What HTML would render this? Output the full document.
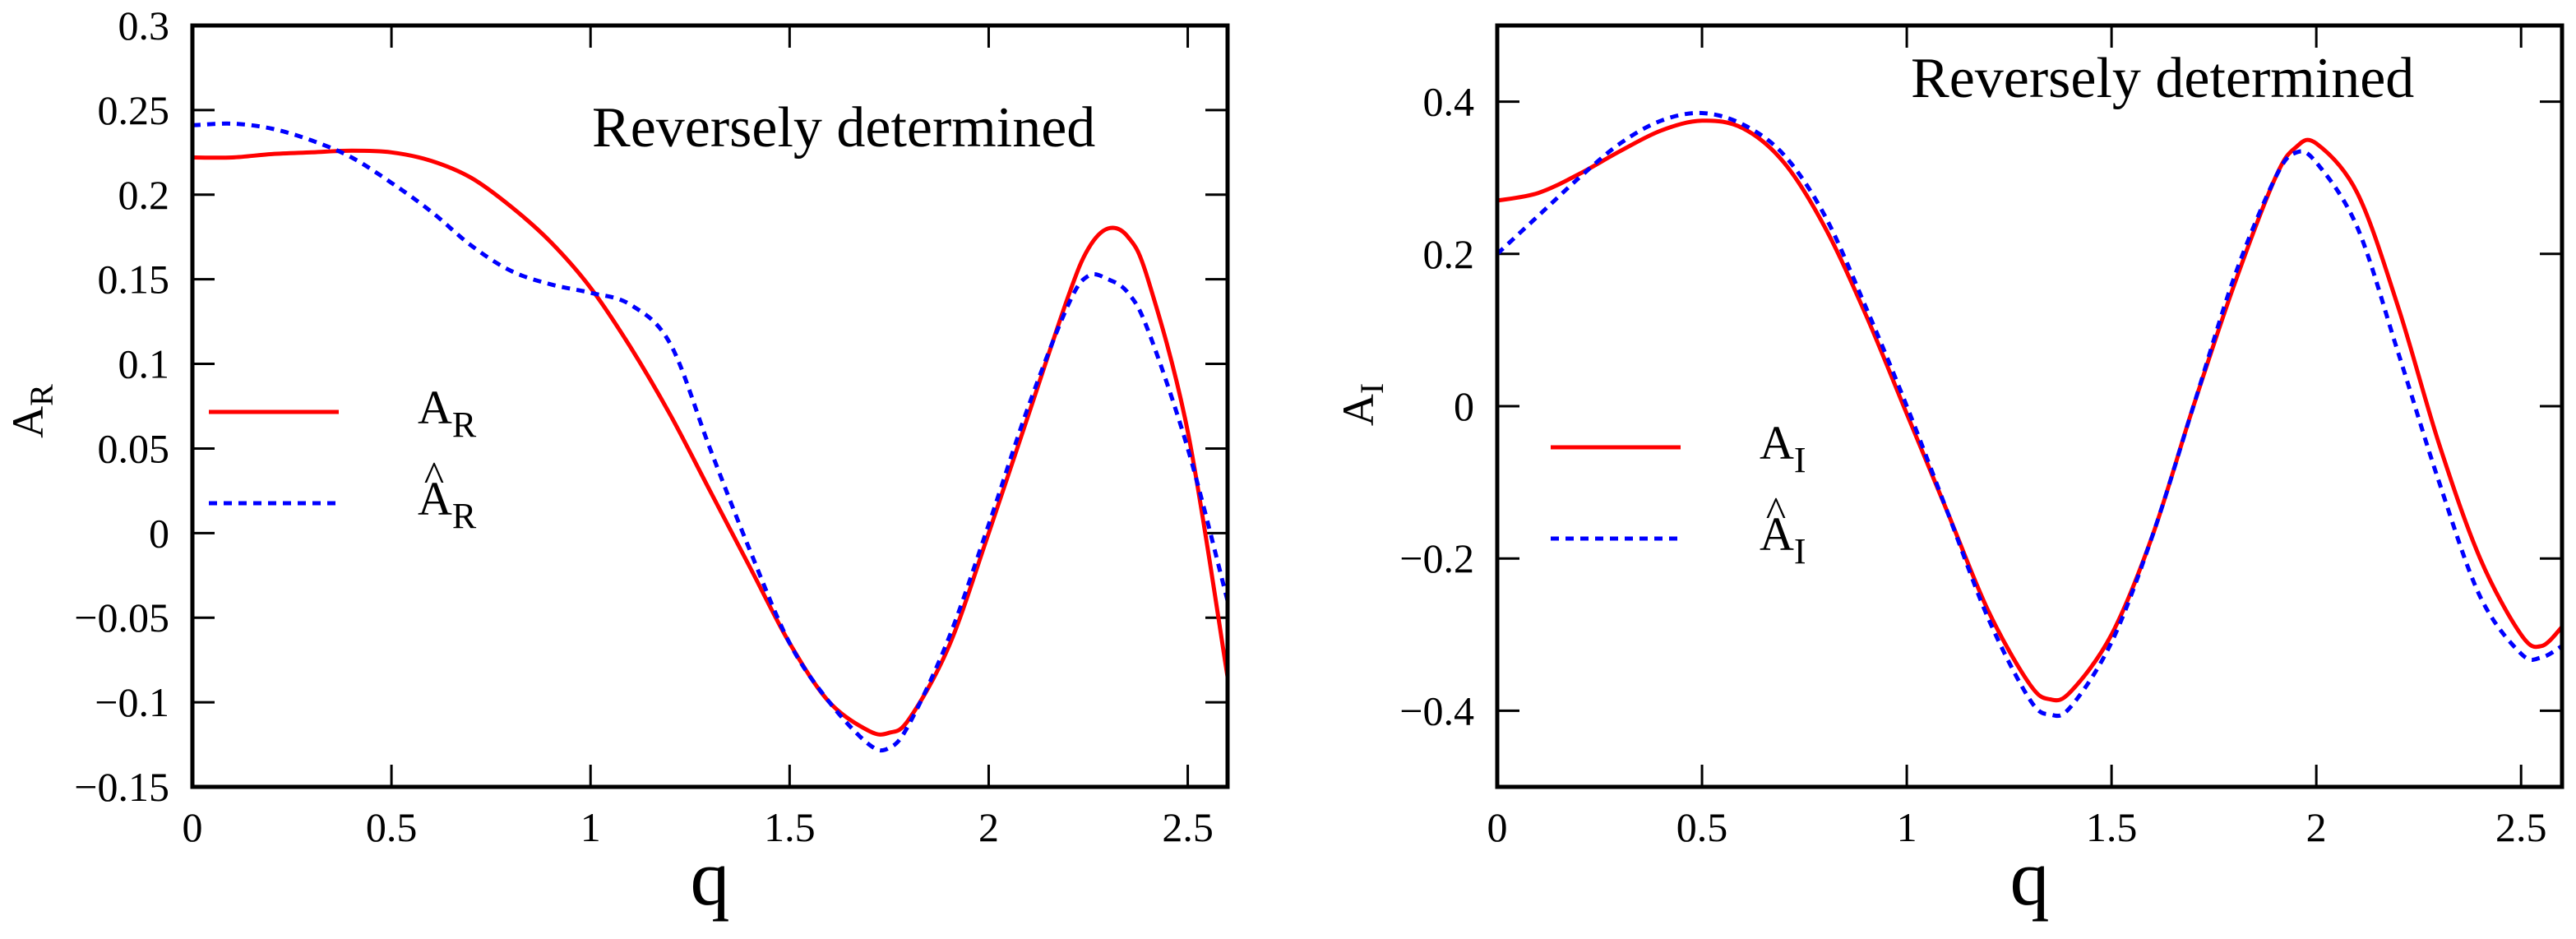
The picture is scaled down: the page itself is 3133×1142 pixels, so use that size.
<!DOCTYPE html>
<html><head><meta charset="utf-8"><style>
html,body{margin:0;padding:0;background:#fff}
svg{display:block;font-family:"Liberation Serif",serif}
</style></head><body>
<svg id="chart" width="3133" height="1142" viewBox="0 0 3133 1142" xmlns="http://www.w3.org/2000/svg"></svg>
<script>
const qL = [0,0.1,0.2,0.3,0.4,0.5,0.6,0.7,0.8,0.9,1.0,1.1,1.2,1.3,1.4,1.5,1.6,1.7,1.75,1.8,1.9,2.0,2.1,2.2,2.25,2.3,2.35,2.4,2.5,2.6];
const aR = [0.222,0.222,0.224,0.225,0.226,0.225,0.22,0.21,0.193,0.172,0.145,0.11,0.07,0.025,-0.02,-0.065,-0.1,-0.117,-0.118,-0.11,-0.067,0.0,0.07,0.14,0.168,0.18,0.175,0.15,0.06,-0.085];
const aRhat = [0.241,0.242,0.239,0.232,0.222,0.207,0.19,0.17,0.155,0.147,0.142,0.135,0.112,0.05,-0.01,-0.065,-0.1,-0.125,-0.127,-0.113,-0.062,0.005,0.075,0.135,0.152,0.15,0.142,0.12,0.05,-0.04];
const qR = [0,0.1,0.2,0.3,0.4,0.5,0.6,0.7,0.8,0.9,1.0,1.1,1.2,1.3,1.35,1.4,1.5,1.6,1.7,1.8,1.9,1.95,2.0,2.1,2.2,2.3,2.4,2.5,2.55,2.6];
const aI = [0.27,0.28,0.305,0.335,0.362,0.375,0.365,0.32,0.235,0.12,-0.01,-0.14,-0.27,-0.365,-0.385,-0.375,-0.3,-0.17,0.0,0.16,0.3,0.34,0.345,0.28,0.13,-0.05,-0.2,-0.3,-0.315,-0.29];
const aIhat = [0.2,0.25,0.3,0.345,0.375,0.385,0.37,0.33,0.25,0.13,0.0,-0.14,-0.28,-0.385,-0.405,-0.395,-0.31,-0.17,0.0,0.17,0.3,0.333,0.32,0.235,0.07,-0.1,-0.25,-0.325,-0.33,-0.315];
const xTicks = [0,0.5,1,1.5,2,2.5];
const xTickLabels = ["0","0.5","1","1.5","2","2.5"];
const yTicksL = [0.3,0.25,0.2,0.15,0.1,0.05,0,-0.05,-0.1,-0.15];
const yTickLabelsL = ["0.3","0.25","0.2","0.15","0.1","0.05","0","\u22120.05","\u22120.1","\u22120.15"];
const yTicksR = [0.4,0.2,0,-0.2,-0.4];
const yTickLabelsR = ["0.4","0.2","0","\u22120.2","\u22120.4"];

const NS="http://www.w3.org/2000/svg";
const svg=document.getElementById('chart');
function mk(tag,attrs,parent){const e=document.createElementNS(NS,tag);for(const k in attrs)e.setAttribute(k,attrs[k]);(parent||svg).appendChild(e);return e;}
function smooth(pts){let d="M"+pts[0][0].toFixed(1)+","+pts[0][1].toFixed(1);
 for(let i=0;i<pts.length-1;i++){const p0=pts[Math.max(0,i-1)],p1=pts[i],p2=pts[i+1],p3=pts[Math.min(pts.length-1,i+2)];
 const c1=[p1[0]+(p2[0]-p0[0])/6,p1[1]+(p2[1]-p0[1])/6],c2=[p2[0]-(p3[0]-p1[0])/6,p2[1]-(p3[1]-p1[1])/6];
 d+=" C"+c1[0].toFixed(1)+","+c1[1].toFixed(1)+" "+c2[0].toFixed(1)+","+c2[1].toFixed(1)+" "+p2[0].toFixed(1)+","+p2[1].toFixed(1);}return d;}

function panel(cfg){
 const g=mk('g',{});
 
 
 const X=v=>cfg.x0+(v-cfg.xmin)/(cfg.xmax-cfg.xmin)*(cfg.x1-cfg.x0);
 const Y=v=>cfg.y1-(v-cfg.ymin)/(cfg.ymax-cfg.ymin)*(cfg.y1-cfg.y0);
 xTicks.forEach((t,i)=>{
  const a=mk('line',{x1:X(t),x2:X(t),y1:cfg.y1,y2:cfg.y1-27,stroke:'#000','stroke-width':3},g);
  
  
  const b=mk('line',{x1:X(t),x2:X(t),y1:cfg.y0,y2:cfg.y0+27,stroke:'#000','stroke-width':3},g);
  
  
  const tx=mk('text',{x:X(t),y:cfg.y1+66,'font-size':50,'text-anchor':'middle'},g);tx.textContent=xTickLabels[i];
  
  
 });
 cfg.yt.forEach((t,i)=>{
  const a=mk('line',{x1:cfg.x0,x2:cfg.x0+27,y1:Y(t),y2:Y(t),stroke:'#000','stroke-width':3},g);
  
  
  const b=mk('line',{x1:cfg.x1,x2:cfg.x1-27,y1:Y(t),y2:Y(t),stroke:'#000','stroke-width':3},g);
  
  
  const tx=mk('text',{x:cfg.x0-28,y:Y(t)+17,'font-size':50,'text-anchor':'end'},g);tx.textContent=cfg.ytl[i];
  
  
 });
 const p1=mk('path',{d:smooth(cfg.q.map((q,i)=>[X(q),Y(cfg.s1[i])])),fill:'none',stroke:'#ff0000','stroke-width':5},g);
 
 
 const p2=mk('path',{d:smooth(cfg.q.map((q,i)=>[X(q),Y(cfg.s2[i])])),fill:'none',stroke:'#0000ff','stroke-width':5,'stroke-dasharray':'10 8'},g);
 
 
 const fr=mk('rect',{x:cfg.x0,y:cfg.y0,width:cfg.x1-cfg.x0,height:cfg.y1-cfg.y0,fill:'none',stroke:'#000','stroke-width':5},g);
 
 
 const ql=mk('text',{x:(cfg.x0+cfg.x1)/2,y:1100,'font-size':96,'text-anchor':'middle'},g);ql.textContent='q';
 
 
 const yl=mk('text',{transform:`translate(${cfg.ylx},${cfg.yly}) rotate(-90)`,'font-size':54,'text-anchor':'middle'},g);
 yl.innerHTML='A<tspan font-size="40" dy="12">'+cfg.sub+'</tspan>';
 
 
 const an=mk('text',{x:cfg.annX,y:cfg.annY,'font-size':70},g);an.textContent='Reversely determined';
 
 
 const l1=mk('line',{x1:cfg.legX,x2:cfg.legX+158,y1:cfg.legY,y2:cfg.legY,stroke:'#ff0000','stroke-width':5},g);
 
 
 const l2=mk('line',{x1:cfg.legX,x2:cfg.legX+158,y1:cfg.legY+111,y2:cfg.legY+111,stroke:'#0000ff','stroke-width':5,'stroke-dasharray':'10 8'},g);
 
 
 const t1=mk('text',{x:cfg.legX+254,y:cfg.legY+14,'font-size':58},g);
 t1.innerHTML='A<tspan font-size="44" dy="16">'+cfg.sub+'</tspan>';
 
 
 const t2=mk('text',{x:cfg.legX+254,y:cfg.legY+125,'font-size':58},g);
 t2.innerHTML='A<tspan font-size="44" dy="16">'+cfg.sub+'</tspan>';
 
 
 const hat=mk('text',{x:cfg.legX+274,y:cfg.legY+96,'font-size':52,'text-anchor':'middle'},g);hat.textContent='^';
 
 
}
panel({name:'left-panel',x0:234,x1:1493,y0:31,y1:957,xmin:0,xmax:2.6,ymin:-0.15,ymax:0.3,yt:yTicksL,ytl:yTickLabelsL,
 q:qL,s1:aR,s2:aRhat,s1name:'series-a-r',s2name:'series-a-r-hat',sub:'R',ylx:52,yly:500,annX:720,annY:178,legX:254,legY:501});
panel({name:'right-panel',x0:1821,x1:3116,y0:31,y1:957,xmin:0,xmax:2.6,ymin:-0.5,ymax:0.5,yt:yTicksR,ytl:yTickLabelsR,
 q:qR,s1:aI,s2:aIhat,s1name:'series-a-i',s2name:'series-a-i-hat',sub:'I',ylx:1670,yly:492,annX:2324,annY:118,legX:1886,legY:544});
</script>
</body></html>
